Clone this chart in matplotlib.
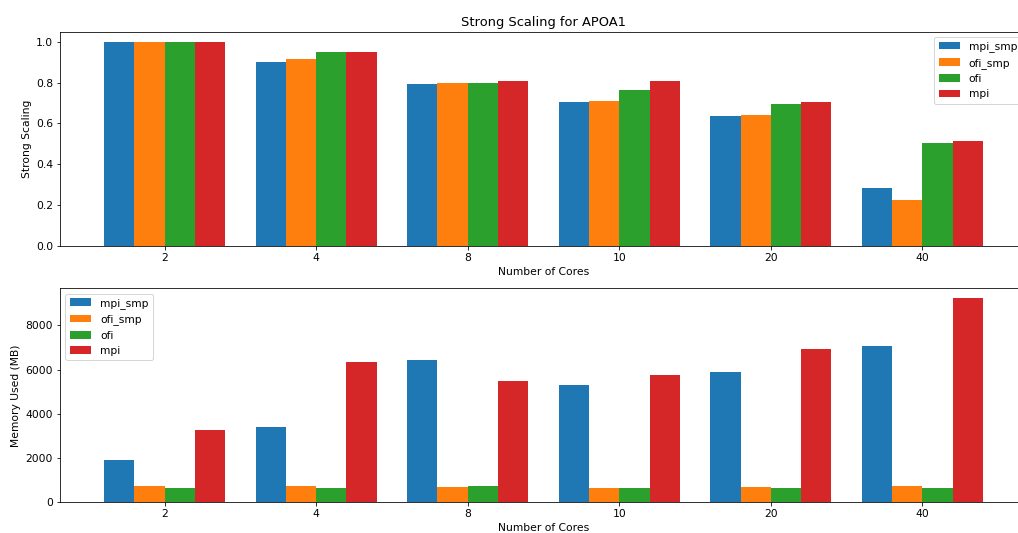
import matplotlib
matplotlib.use("Agg")
import matplotlib.pyplot as plt
import numpy as np

cores = ["2", "4", "8", "10", "20", "40"]
series = ["mpi_smp", "ofi_smp", "ofi", "mpi"]

# strong scaling values
scaling_mpi_smp = [1.0, 0.90, 0.795, 0.704, 0.635, 0.283]
scaling_ofi_smp = [1.0, 0.917, 0.80, 0.71, 0.640, 0.224]
scaling_ofi = [1.0, 0.949, 0.80, 0.763, 0.697, 0.506]
scaling_mpi = [1.0, 0.949, 0.807, 0.807, 0.704, 0.512]

# memory used (MB)
mem_mpi_smp = [1930, 3396, 6430, 5312, 5900, 7078]
mem_ofi_smp = [740, 740, 694, 650, 694, 750]
mem_ofi = [650, 650, 752, 650, 650, 650]
mem_mpi = [3290, 6340, 5507, 5750, 6928, 9220]

plt.rcParams["font.size"] = 10.8

W, H = 1018, 533
fig = plt.figure(figsize=(W / 72, H / 72), dpi=72)

x = np.arange(len(cores))
width = 0.2
offsets = [-1.5 * width, -0.5 * width, 0.5 * width, 1.5 * width]


def draw(ax, data, ylabel, legend_loc):
    for off, vals, name in zip(offsets, data, series):
        ax.bar(x + off, vals, width, label=name)
    ax.set_xticks(x)
    ax.set_xticklabels(cores)
    ax.set_xlabel("Number of Cores")
    ax.set_ylabel(ylabel)
    ax.legend(loc=legend_loc)


ax1 = fig.add_axes([60 / W, 1 - 245.7 / H, 967 / W, 214 / H])
draw(ax1, [scaling_mpi_smp, scaling_ofi_smp, scaling_ofi, scaling_mpi],
     "Strong Scaling", "upper right")
ax1.set_title("Strong Scaling for APOA1")

ax2 = fig.add_axes([60 / W, 1 - 502.3 / H, 967 / W, 214 / H])
draw(ax2, [mem_mpi_smp, mem_ofi_smp, mem_ofi, mem_mpi],
     "Memory Used (MB)", "upper left")

fig.savefig("out.png", dpi=72)
